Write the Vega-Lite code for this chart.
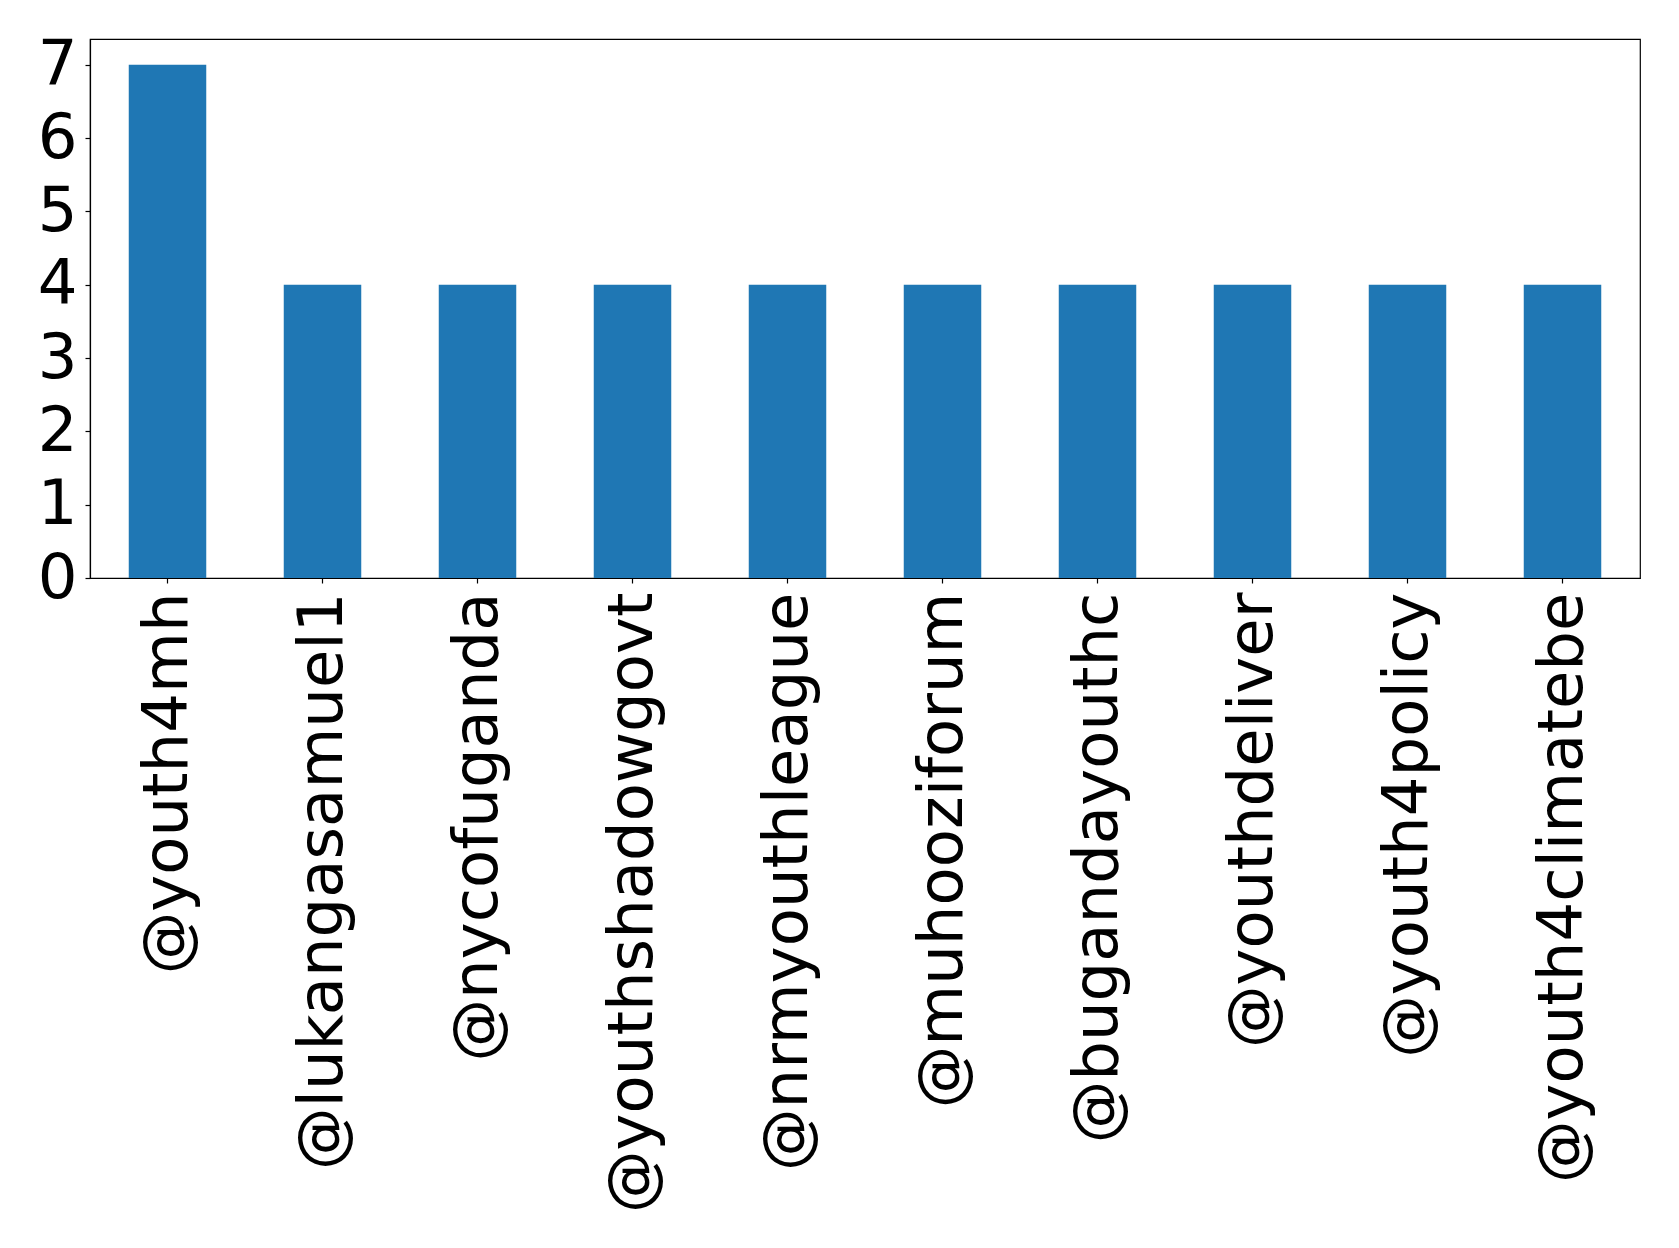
{
  "$schema": "https://vega.github.io/schema/vega-lite/v6.json",
  "width": 1550,
  "height": 539,
  "autosize": {"type": "none"},
  "padding": {"left": 90, "top": 39, "right": 39, "bottom": 670},
  "background": "white",
  "data": {
    "values": [
      {"account": "@youth4mh", "count": 7},
      {"account": "@lukangasamuel1", "count": 4},
      {"account": "@nycofuganda", "count": 4},
      {"account": "@youthshadowgovt", "count": 4},
      {"account": "@nrmyouthleague", "count": 4},
      {"account": "@muhooziforum", "count": 4},
      {"account": "@bugandayouthc", "count": 4},
      {"account": "@youthdeliver", "count": 4},
      {"account": "@youth4policy", "count": 4},
      {"account": "@youth4climatebe", "count": 4}
    ]
  },
  "config": {
    "font": "DejaVu Sans",
    "view": {"stroke": "black", "strokeWidth": 1.2},
    "axis": {
      "domainColor": "black",
      "domainWidth": 1.2,
      "tickColor": "black",
      "tickWidth": 1.2,
      "tickSize": 5,
      "labelColor": "black",
      "labelFont": "DejaVu Sans",
      "labelFontSize": 62.5,
      "grid": false,
      "title": null
    }
  },
  "mark": {"type": "bar", "color": "#1f77b4"},
  "encoding": {
    "x": {
      "field": "account",
      "type": "nominal",
      "sort": null,
      "scale": {"paddingInner": 0.5, "paddingOuter": 0.25},
      "axis": {"labelAngle": -90, "labelAlign": "right", "labelBaseline": "middle", "labelPadding": 9, "labelLimit": 0}
    },
    "y": {
      "field": "count",
      "type": "quantitative",
      "scale": {"domain": [0, 7.35], "nice": false, "zero": true},
      "axis": {"values": [0, 1, 2, 3, 4, 5, 6, 7], "labelPadding": 8}
    }
  }
}
